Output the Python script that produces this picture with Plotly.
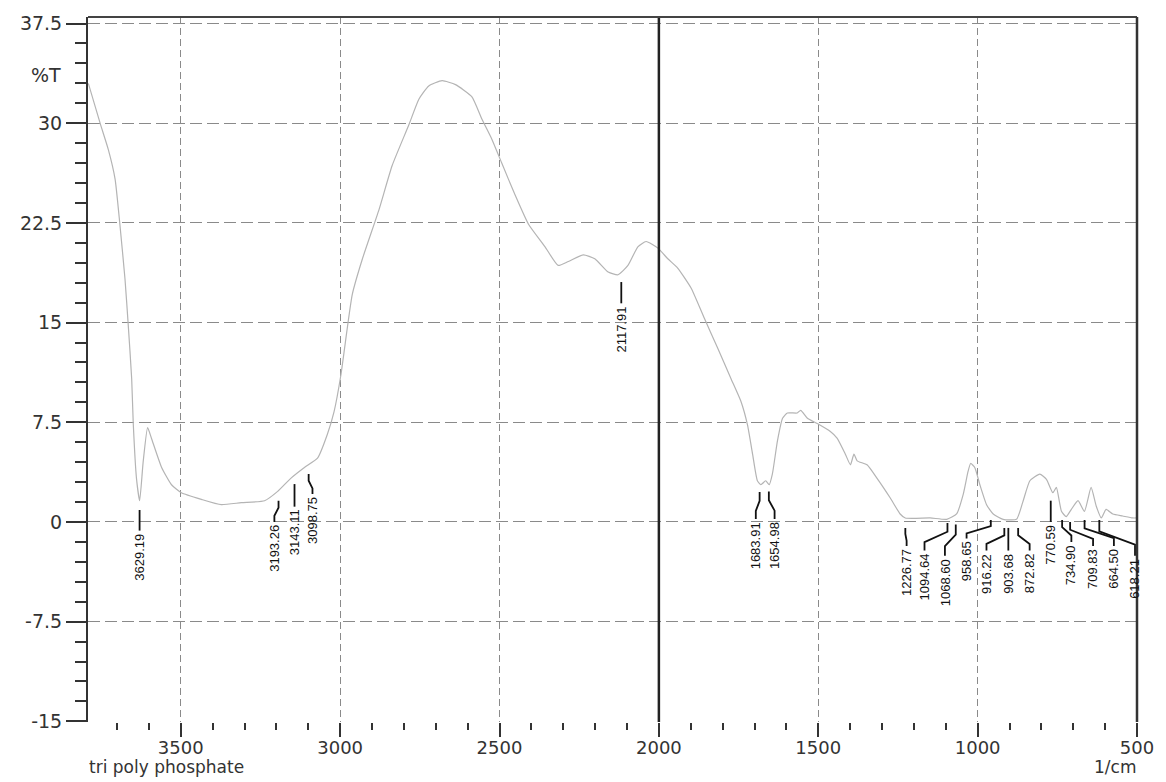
import plotly.graph_objects as go

# ---------------- data ----------------
wavenumber = [3790, 3753, 3727, 3706, 3691, 3675, 3665, 3654, 3649, 3639, 3629, 3618, 3604, 3592,
              3560, 3529, 3498, 3435, 3373, 3310, 3237, 3196, 3154, 3112, 3071, 3040, 3019, 2998,
              2962, 2930, 2878, 2837, 2784, 2753, 2722, 2680, 2638, 2587, 2555, 2524, 2493, 2451,
              2409, 2357, 2316, 2284, 2237, 2201, 2159, 2128, 2097, 2066, 2040, 2003, 1972, 1941,
              1899, 1857, 1816, 1774, 1743, 1722, 1706, 1691, 1680, 1665, 1654, 1644, 1628, 1612,
              1597, 1566, 1555, 1534, 1503, 1462, 1441, 1415, 1399, 1388, 1378, 1347, 1316, 1274,
              1243, 1227, 1149, 1097, 1066, 1045, 1030, 1022, 1009, 993, 972, 951, 920, 878, 857,
              836, 805, 784, 764, 753, 737, 722, 706, 685, 665, 644, 628, 612, 597, 576, 545, 514, 500]
transmittance = [33.0, 30.0, 28.0, 25.8, 22.4, 18.3, 14.9, 10.8, 7.4, 3.3, 1.6, 4.5, 7.1, 6.3,
                 4.1, 2.8, 2.2, 1.7, 1.3, 1.45, 1.6, 2.3, 3.3, 4.1, 4.8, 6.6, 8.3, 11.0,
                 17.1, 19.8, 23.5, 26.8, 29.9, 31.8, 32.8, 33.2, 32.9, 32.0, 30.3, 28.8, 27.0, 24.6,
                 22.4, 20.7, 19.3, 19.6, 20.1, 19.8, 18.8, 18.6, 19.3, 20.7, 21.1, 20.6, 19.8, 19.1,
                 17.6, 15.3, 13.1, 10.8, 9.1, 7.3, 5.1, 3.1, 2.8, 3.1, 2.8, 3.6, 6.1, 7.8,
                 8.2, 8.2, 8.4, 7.8, 7.4, 6.8, 6.3, 5.1, 4.3, 5.1, 4.6, 4.3, 3.3, 1.8,
                 0.6, 0.3, 0.3, 0.2, 0.6, 2.1, 3.8, 4.4, 4.1, 2.8, 1.3, 0.6, 0.2, 0.2, 1.6,
                 3.1, 3.6, 3.2, 2.2, 2.6, 0.8, 0.4, 0.95, 1.6, 0.8, 2.6, 1.2, 0.3, 0.95, 0.6, 0.45, 0.3, 0.3]

peak_wn = [3629.19, 3193.26, 3143.11, 3098.75, 2117.91, 1683.91, 1654.98, 1226.77, 1094.64,
           1068.60, 958.65, 916.22, 903.68, 872.82, 770.59, 734.90, 709.83, 664.50, 618.21]
peak_labels = ["3629.19", "3193.26", "3143.11", "3098.75", "2117.91", "1683.91", "1654.98",
               "1226.77", "1094.64", "1068.60", "958.65", "916.22", "903.68", "872.82",
               "770.59", "734.90", "709.83", "664.50", "618.21"]
# leader start level (just under the curve) for each peak
peak_t = [0.9, 1.6, 2.85, 3.6, 18.05, 2.25, 2.3, -0.45, -0.07, -0.2, 0.15, -0.45, -0.45, -0.45,
          1.6, 0.15, 0.0, 0.15, 0.15]

y_ticks = [-15, -7.5, 0, 7.5, 15, 22.5, 30, 37.5]
y_ticktext = ["-15", "-7.5", "0", "7.5", "15", "22.5", "30", "37.5"]
x_ticks = [3500, 3000, 2500, 2000, 1500, 1000, 500]
x_ticktext = ["3500", "3000", "2500", "2000", "1500", "1000", "500"]

# ---------------- label layout (offsets / text top levels) ----------------
label_dx = [0, 13, 0, -12, 0, 12, -18, -4, 72, 34, 76, 56, 0, -36, 0, -29, -72, -92, -112]
label_top = [-0.8, -0.15, 1.0, 1.95, 16.3, 0.07, 0.07, -1.95, -2.3, -2.7, -1.4, -2.3, -2.3, -2.3,
             -0.15, -1.65, -1.95, -1.95, -2.7]

X_RANGE = [3791, 500]
Y_RANGE = [-15.05, 37.99]
MARK_LINE = 2000

fig = go.Figure()

fig.add_trace(go.Scatter(
    x=wavenumber, y=transmittance, mode="lines",
    line=dict(color="#b4b4b4", width=1.2, shape="spline", smoothing=0.5),
    hoverinfo="skip", showlegend=False))

# leader lines
lx, ly = [], []
for wn, t0, dx, top in zip(peak_wn, peak_t, label_dx, label_top):
    span = t0 - top
    if dx == 0:
        lx += [wn, wn, None]
        ly += [t0, top + 0.15, None]
    else:
        k1 = t0 - span * 0.3
        k2 = t0 - span * 0.65
        lx += [wn, wn, wn + dx, wn + dx, None]
        ly += [t0, k1, k2, top + 0.15, None]
fig.add_trace(go.Scatter(x=lx, y=ly, mode="lines", line=dict(color="#111", width=1.8),
                         hoverinfo="skip", showlegend=False))

annotations = []
for wn, lab, dx, top in zip(peak_wn, peak_labels, label_dx, label_top):
    annotations.append(dict(x=wn + dx, y=top, xref="x", yref="y", text=lab, showarrow=False,
                            textangle=-90, xanchor="center", yanchor="top",
                            font=dict(family="Liberation Sans, Arial", size=13, color="#111"),
                            borderpad=0))

annotations += [
    dict(x=-0.0238, y=33.6, xref="paper", yref="y", text="%T", showarrow=False,
         xanchor="right", yanchor="middle",
         font=dict(family="DejaVu Sans", size=19, color="#333")),
    dict(x=0, y=-0.064, xref="paper", yref="paper", text="tri poly phosphate", showarrow=False,
         xanchor="left", yanchor="middle", borderpad=0,
         font=dict(family="DejaVu Sans", size=17, color="#333")),
    dict(x=1, y=-0.064, xref="paper", yref="paper", text="1/cm", showarrow=False,
         xanchor="right", yanchor="middle", borderpad=0,
         font=dict(family="DejaVu Sans", size=17, color="#333")),
]

shapes = [
    dict(type="line", xref="x", yref="paper", x0=MARK_LINE, x1=MARK_LINE, y0=0, y1=1,
         line=dict(color="#222", width=2.5)),
    dict(type="line", xref="paper", yref="paper", x0=0, x1=1, y0=1, y1=1,
         line=dict(color="#444", width=2)),
    dict(type="line", xref="paper", yref="paper", x0=1, x1=1, y0=0, y1=1,
         line=dict(color="#333", width=2.5)),
]

fig.update_layout(
    width=1166, height=782,
    margin=dict(l=88, r=26, t=15, b=60),
    paper_bgcolor="white", plot_bgcolor="white",
    annotations=annotations, shapes=shapes,
    showlegend=False,
    xaxis=dict(range=X_RANGE, tickvals=x_ticks, ticktext=x_ticktext,
               ticks="outside", ticklen=14, tickwidth=1.5, tickcolor="#333",
               ticklabelstandoff=-5,
               showline=False, zeroline=False,
               showgrid=True, gridcolor="#8a8a8a", gridwidth=1.3, griddash="7px,4px",
               tickfont=dict(family="DejaVu Sans", size=18, color="#333"),
               minor=dict(dtick=100, tick0=500, ticks="outside", ticklen=7, tickwidth=1.5,
                          tickcolor="#333", showgrid=False)),
    yaxis=dict(range=Y_RANGE, tickvals=y_ticks, ticktext=y_ticktext,
               ticks="outside", ticklen=20, tickwidth=1.5, tickcolor="#333",
               showline=True, linecolor="#333", linewidth=2, zeroline=False,
               showgrid=True, gridcolor="#8a8a8a", gridwidth=1.3, griddash="12px,5px",
               tickfont=dict(family="DejaVu Sans", size=19, color="#333"),
               minor=dict(dtick=1.5, tick0=0, ticks="outside", ticklen=11, tickwidth=1.5,
                          tickcolor="#333", showgrid=False)),
)

fig.write_html("out.html")
